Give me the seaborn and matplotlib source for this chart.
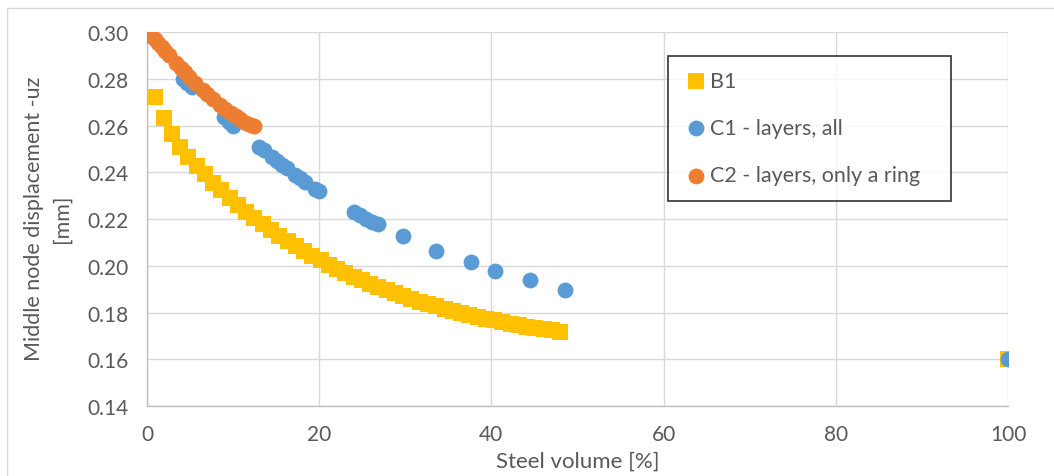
import numpy as np
import pandas as pd
import matplotlib
matplotlib.use("Agg")
import matplotlib.pyplot as plt
import seaborn as sns
from matplotlib.lines import Line2D

# Data
b1_x = [0.96, 1.92, 2.88, 3.84, 4.80, 5.76, 6.72, 7.68, 8.64, 9.60,
        10.56, 11.52, 12.48, 13.44, 14.40, 15.36, 16.32, 17.28, 18.24, 19.20,
        20.16, 21.12, 22.08, 23.04, 24.00, 24.96, 25.92, 26.88, 27.84, 28.80,
        29.76, 30.72, 31.68, 32.64, 33.60, 34.56, 35.52, 36.48, 37.44, 38.40,
        39.36, 40.32, 41.28, 42.24, 43.20, 44.16, 45.12, 46.08, 47.04, 48.00,
        100.0]
b1_y = [0.2724, 0.2631, 0.2562, 0.2510, 0.2467, 0.2428, 0.2391, 0.2356, 0.2323, 0.2290,
        0.2258, 0.2230, 0.2205, 0.2178, 0.2153, 0.2129, 0.2106, 0.2084, 0.2063, 0.2043,
        0.2024, 0.2005, 0.1987, 0.1970, 0.1954, 0.1938, 0.1923, 0.1909, 0.1895, 0.1882,
        0.1870, 0.1858, 0.1847, 0.1836, 0.1826, 0.1816, 0.1807, 0.1798, 0.1789, 0.1781,
        0.1773, 0.1766, 0.1759, 0.1752, 0.1746, 0.1740, 0.1734, 0.1728, 0.1723, 0.1718,
        0.1600]

c1_x = [4.2, 4.7, 5.2, 9.0, 9.5, 10.0,
        13.0, 13.6, 14.5, 15.1, 15.7, 16.3, 17.2, 17.8, 18.4, 19.5, 20.0,
        24.0, 24.7, 25.4, 26.1, 26.8,
        29.7, 33.6, 37.6, 40.4, 44.5, 48.5, 100.0]
c1_y = [0.2800, 0.2782, 0.2765, 0.2635, 0.2617, 0.2598,
        0.2508, 0.2497, 0.2465, 0.2448, 0.2432, 0.2418, 0.2390, 0.2374, 0.2360, 0.2330, 0.2318,
        0.2228, 0.2215, 0.2202, 0.2189, 0.2177,
        0.2126, 0.2064, 0.2016, 0.1979, 0.1937, 0.1897, 0.1600]

c2_x = [0.5, 0.9, 1.3, 1.7, 2.1, 2.6, 3.4, 3.9, 4.4, 4.9, 5.6,
        6.5, 7.0, 7.7, 8.5, 9.1, 9.7, 10.3, 10.8, 11.5, 12.1, 12.4]
c2_y = [0.2985, 0.2970, 0.2953, 0.2937, 0.2920, 0.2900, 0.2868, 0.2848, 0.2828, 0.2809, 0.2783,
        0.2752, 0.2735, 0.2712, 0.2688, 0.2671, 0.2655, 0.2640, 0.2627, 0.2612, 0.2601, 0.2596]

labels = ["B1", "C1 - layers, all", "C2 - layers, only a ring"]
colors = ["#FFC000", "#5B9BD5", "#ED7D31"]

sns.set_style("white")
plt.rcParams["font.family"] = ["Lato", "DejaVu Sans"]
text_col = "#595959"

fig = plt.figure(figsize=(10.54, 4.77), dpi=100)
ax = fig.add_axes([147 / 1054, 1 - 407 / 477, 861 / 1054, 374 / 477])

sns.scatterplot(x=b1_x, y=b1_y, ax=ax, marker="s", s=120, color=colors[0],
                linewidth=0, label=labels[0], zorder=3)
sns.scatterplot(x=c1_x, y=c1_y, ax=ax, marker="o", s=130, color=colors[1],
                linewidth=0, label=labels[1], zorder=4)
sns.scatterplot(x=c2_x, y=c2_y, ax=ax, marker="o", s=130, color=colors[2],
                linewidth=0, label=labels[2], zorder=5)

ax.set_xlim(0, 100)
ax.set_ylim(0.14, 0.30)
ax.set_xticks([0, 20, 40, 60, 80, 100])
ax.set_yticks(np.arange(0.14, 0.301, 0.02))
ax.set_yticklabels([f"{v:.2f}" for v in np.arange(0.14, 0.301, 0.02)])
ax.grid(True, color="#d9d9d9", linewidth=1)
ax.set_axisbelow(True)
for side in ["top", "right"]:
    ax.spines[side].set_visible(False)
for side in ["left", "bottom"]:
    ax.spines[side].set_color("#bfbfbf")
    ax.spines[side].set_linewidth(1)
ax.tick_params(length=0, labelsize=15, labelcolor=text_col, pad=13)

ax.set_xlabel("Steel volume [%]", fontsize=16, color=text_col, va="top")
ax.xaxis.set_label_coords(0.5, -0.12)
ax.set_ylabel("Middle node displacement -uz\n[mm]", fontsize=15.5, color=text_col,
              linespacing=1.5)
ax.yaxis.set_label_coords(-0.087, 0.503)

leg = ax.legend(loc="upper left", bbox_to_anchor=(0.6055, 0.9366, 0.328, 0.0),
                mode="expand", frameon=True, fancybox=False, fontsize=15.5,
                labelspacing=1.27, handletextpad=0.05, borderpad=0.7,
                handlelength=1.2, borderaxespad=0)
leg.get_frame().set_edgecolor("black")
leg.get_frame().set_linewidth(1.2)
for t in leg.get_texts():
    t.set_color(text_col)

# thin frame of the chart area (top and left edges visible)
fig.add_artist(Line2D([7 / 1054, 1], [1 - 9 / 477, 1 - 9 / 477], color="#d9d9d9", lw=1))
fig.add_artist(Line2D([7 / 1054, 7 / 1054], [0, 1 - 9 / 477], color="#d9d9d9", lw=1))

fig.savefig("out.png", dpi=100)
